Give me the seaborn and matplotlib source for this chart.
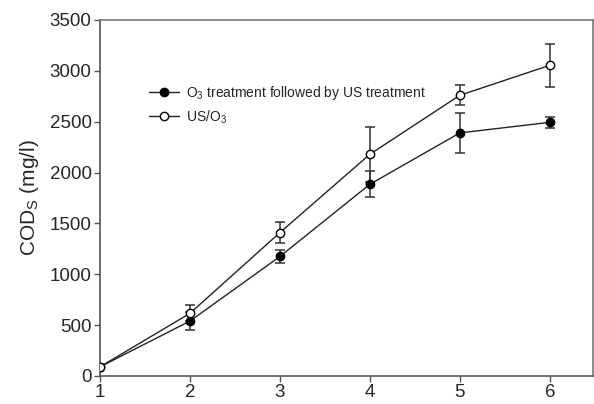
import matplotlib
matplotlib.use("Agg")
import matplotlib.pyplot as plt
import seaborn as sns
import pandas as pd
import numpy as np

x_vals = [1, 2, 3, 4, 5, 6]
o3_then_us = [90, 540, 1175, 1885, 2390, 2494]
o3_then_us_err = [20, 90, 60, 130, 200, 55]
us_o3 = [90, 616, 1410, 2180, 2760, 3055]
us_o3_err = [20, 78, 105, 270, 100, 213]
label_a = "O$_3$ treatment followed by US treatment"
label_b = "US/O$_3$"

sns.set_style("white")
plt.rcParams['font.family'] = ['Liberation Sans', 'DejaVu Sans']
plt.rcParams['mathtext.fontset'] = 'custom'
plt.rcParams['mathtext.rm'] = 'Liberation Sans'
plt.rcParams['mathtext.it'] = 'Liberation Sans'

df = pd.concat([
    pd.DataFrame({"x": x_vals, "y": o3_then_us, "err": o3_then_us_err, "series": label_a}),
    pd.DataFrame({"x": x_vals, "y": us_o3, "err": us_o3_err, "series": label_b}),
])

fig = plt.figure(figsize=(5.94, 4.04), dpi=100)
ax = fig.add_axes([100/594, 28/404, 493/594, 356/404])

for name in [label_a, label_b]:
    sub = df[df.series == name]
    ax.errorbar(sub.x, sub.y, yerr=sub.err, fmt="none", ecolor="#333333",
                elinewidth=1.1, capsize=3.6, capthick=1.1, zorder=2)

sns.lineplot(data=df, x="x", y="y", hue="series", style="series",
             palette={label_a: "#222222", label_b: "#222222"},
             markers={label_a: "o", label_b: "o"}, dashes=False,
             linewidth=1.0, markersize=6, ax=ax, legend=False, zorder=3)

lines = ax.get_lines()[-2:]
lines[0].set_markerfacecolor("black")
lines[0].set_markeredgecolor("black")
lines[1].set_markerfacecolor("white")
lines[1].set_markeredgecolor("black")
for ln in lines:
    ln.set_markeredgewidth(1.0)
ax.legend(lines, [label_a, label_b], loc="upper left", bbox_to_anchor=(0.099, 0.82),
          frameon=False, fontsize=10, handlelength=2.2, handletextpad=0.5,
          labelspacing=0.45, borderaxespad=0, borderpad=0)

ax.set_xlim(1, 6.48)
ax.set_ylim(0, 3500)
ax.set_xticks(x_vals)
ax.set_yticks(np.arange(0, 3501, 500))
ax.tick_params(axis="both", direction="out", length=4, width=1, color="#555555",
               labelsize=13.5, bottom=True, left=True, pad=2)
ax.set_xlabel("")
ax.set_ylabel("COD$_\\mathregular{S}$ (mg/l)", fontsize=15, labelpad=6)
for sp in ax.spines.values():
    sp.set_color("#777777")
    sp.set_linewidth(1.2)
ax.spines["left"].set_color("#555555")
ax.spines["bottom"].set_color("#555555")

fig.savefig("out.png", dpi=100)
